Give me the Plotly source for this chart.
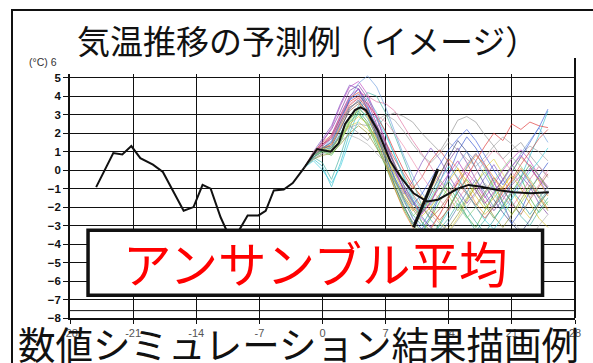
import plotly.graph_objects as go

# ---- data ----
obs_days = [-25.1, -23.2, -22.2, -21.2, -20.2, -18.8, -17.7, -15.4, -14.3, -13.3, -12.4,
            -11.3, -10.6, -10.0, -9.3, -8.3, -7.1, -6.3, -5.4, -4.3, -3.3, -2.0]
obs_temp = [-0.92, 0.92, 0.85, 1.3, 0.65, 0.3, -0.1, -2.2, -2.0, -0.8, -1.0,
            -2.55, -3.3, -3.6, -3.3, -2.45, -2.45, -2.2, -1.1, -1.05, -0.7, 0.15]

mean_days = [-2.0, -0.6, 0.9, 1.8, 2.5, 3.6, 4.2, 4.8, 6.1, 7.5, 8.7, 10.1, 11.6, 12.8,
             15.0, 16.2, 17.6, 19.4, 21.2, 23.1, 25.1]
mean_temp = [0.15, 1.14, 1.0, 1.46, 2.5, 3.25, 3.4, 3.25, 2.17, 0.5, -0.4, -1.25, -1.7, -1.6,
             -1.0, -0.8, -0.9, -1.08, -1.2, -1.25, -1.2]

member_days = [-2, -1, 0, 1, 2, 3, 4, 5, 6, 7, 8, 9, 10, 11, 12, 13, 14, 15, 16, 17, 18, 19, 20, 21, 22, 23, 24, 25]

member_01 = [0.15,0.9,1.6,2.2,3.2,4.3,4.6,3.9,2.8,1.5,0.3,-0.8,-1.6,-2.3,-1.8,-0.6,0.5,1.2,0.4,-0.5,-1.4,-2.2,-1.6,-0.8,-0.3,-0.9,-1.8,-2.4]
member_02 = [0.15,0.8,1.2,1.5,2.6,3.8,4.4,3.5,2.1,0.8,-0.5,-1.6,-2.6,-3.2,-2.5,-1.4,-0.2,1.0,1.8,1.2,0.3,-0.6,-1.8,-2.9,-2.2,-1.1,-0.3,0.4]
member_03 = [0.15,0.6,0.2,-0.9,0.4,2.0,3.2,3.9,3.1,2.0,0.8,-0.4,-1.5,-2.8,-3.6,-3.0,-2.2,-1.0,0.2,0.9,0.1,-1.0,-2.1,-1.5,-0.4,0.8,1.9,3.2]
member_04 = [0.15,0.7,1.0,0.8,1.5,2.6,3.1,2.4,1.3,0.2,-1.0,-2.1,-3.0,-3.4,-2.6,-1.7,-0.9,-1.6,-2.5,-3.1,-2.2,-1.3,-0.5,0.3,-0.4,-1.5,-2.3,-1.7]
member_05 = [0.15,0.9,1.3,1.2,1.8,2.4,2.6,2.2,1.6,0.9,0.2,-0.5,-0.9,-1.4,-2.0,-2.8,-3.3,-2.6,-1.7,-0.8,0.1,0.6,-0.2,-1.1,-2.0,-2.6,-1.9,-1.2]
member_06 = [0.15,1.0,1.5,1.9,2.9,3.9,4.2,3.3,2.0,0.6,-0.6,-1.5,-2.2,-1.8,-1.0,-0.2,0.6,0.1,-0.9,-1.8,-2.4,-1.9,-1.0,-0.1,0.7,0.2,-0.6,-1.4]
member_07 = [0.15,0.9,1.4,1.8,2.8,3.7,4.0,3.6,2.9,2.1,1.0,0.0,-0.8,-1.5,-2.2,-2.7,-2.1,-1.2,-0.4,0.5,1.3,2.0,1.6,2.5,2.2,2.6,2.4,2.3]
member_08 = [0.15,0.8,1.3,1.8,2.9,3.9,4.2,4.0,3.7,3.6,3.2,2.4,1.6,0.9,0.2,-0.6,-1.2,-0.5,0.3,0.9,0.2,-0.7,-1.4,-2.0,-1.3,-0.5,0.2,-0.3]
member_09 = [0.15,0.6,0.9,1.2,1.9,2.4,2.0,1.6,2.3,2.9,3.1,2.9,2.6,2.0,1.5,1.0,1.8,2.7,2.9,2.6,1.9,1.3,0.6,1.1,1.5,0.8,0.2,-0.4]
member_10 = [0.15,0.9,1.5,2.3,3.5,4.5,4.8,4.1,2.9,1.5,0.2,-1.1,-2.0,-2.6,-3.1,-2.4,-1.5,-0.6,-0.1,-0.7,-1.5,-0.8,0.0,0.6,1.1,0.5,-0.3,-0.9]
member_11 = [0.15,0.7,0.4,-0.5,0.8,2.3,3.5,4.2,4.0,3.1,1.9,0.6,-0.7,-1.9,-2.7,-3.2,-2.6,-1.8,-2.5,-3.3,-2.7,-1.9,-1.1,-1.7,-2.5,-3.0,-2.2,-1.5]
member_12 = [0.15,0.8,1.1,1.0,1.7,2.7,3.3,2.9,2.0,0.9,-0.1,-1.0,-1.8,-2.3,-1.6,-0.8,-1.4,-2.2,-1.5,-0.7,-0.1,-0.9,-1.7,-2.4,-1.8,-1.0,-0.4,-1.0]
member_13 = [0.15,0.7,1.2,1.6,2.7,3.9,4.7,5.1,4.5,3.4,2.1,0.8,-0.3,-1.2,-1.9,-1.3,-0.5,0.3,1.0,0.5,-0.3,-1.1,-0.6,0.2,0.9,1.6,2.3,1.5]
member_14 = [0.15,0.8,1.1,1.4,2.3,3.2,3.6,3.0,2.2,1.3,0.3,-0.6,-1.3,-2.0,-2.6,-2.1,-1.4,-0.7,-1.3,-1.9,-1.2,-0.4,-1.0,-1.8,-2.4,-1.6,-0.9,-0.2]
member_15 = [0.15,0.9,1.2,1.3,2.2,3.3,3.8,3.1,1.9,0.5,-0.8,-1.9,-2.9,-2.3,-1.3,-0.3,0.7,1.6,1.0,0.1,-0.8,-1.6,-2.3,-2.9,-3.4,-2.7,-1.8,-1.2]
member_16 = [0.15,0.6,0.8,0.9,1.4,2.0,2.4,2.0,1.2,0.3,-0.6,-1.4,-2.1,-2.8,-3.3,-3.7,-3.1,-2.4,-1.6,-0.9,-1.7,-2.5,-3.1,-2.4,-1.6,-0.8,-1.5,-2.2]
member_17 = [0.15,1.0,1.7,2.4,3.6,4.6,4.4,3.2,1.9,0.7,-0.4,-1.3,-0.6,0.4,1.2,0.6,-0.3,-1.1,-1.8,-1.2,-0.4,0.3,-0.5,-1.3,-0.7,0.1,-0.5,-1.3]
member_18 = [0.15,0.7,1.0,1.1,1.9,2.8,3.2,2.6,1.5,0.3,-0.9,-2.0,-2.8,-3.3,-3.6,-2.9,-2.0,-1.2,-0.5,-1.1,-1.9,-2.6,-2.0,-1.2,-0.4,0.3,-0.3,-1.0]
member_19 = [0.15,0.9,1.4,1.7,2.6,3.5,3.9,3.3,2.4,1.5,0.6,-0.2,-1.0,-0.4,0.5,1.1,0.4,-0.5,-1.2,-2.0,-2.6,-2.0,-1.2,-0.5,0.3,1.0,1.7,2.2]
member_20 = [0.15,0.5,0.0,-0.7,0.2,1.6,2.7,3.2,2.8,1.9,0.8,-0.3,-1.4,-2.2,-1.5,-0.6,0.2,-0.4,-1.2,-2.0,-2.7,-3.2,-2.5,-1.6,-0.8,-0.1,0.5,1.2]
member_21 = [0.15,0.7,1.0,1.3,1.8,2.3,2.5,2.4,2.7,3.0,2.7,2.1,1.4,0.8,0.4,0.9,1.5,1.1,0.6,0.2,0.7,1.3,1.8,1.4,0.9,1.3,1.0,0.5]
member_22 = [0.15,0.8,1.2,1.4,2.4,3.4,3.7,3.0,1.7,0.3,-1.0,-2.2,-3.1,-3.7,-3.2,-2.4,-1.5,-0.7,0.1,0.8,0.3,-0.4,-1.2,-0.6,0.1,-0.6,-1.4,-2.1]
member_23 = [0.15,0.8,1.3,1.7,2.8,3.8,4.1,3.4,2.3,1.2,0.0,-1.1,-1.9,-1.3,-0.5,0.3,1.1,1.7,2.2,1.6,0.8,0.0,-0.8,-0.1,0.7,1.5,2.3,3.3]
member_24 = [0.15,0.9,1.2,1.0,1.6,2.5,2.9,2.5,1.7,0.8,-0.2,-1.2,-2.0,-2.5,-2.0,-1.3,-0.6,0.1,-0.6,-1.4,-2.1,-1.5,-0.9,-0.3,-1.0,-1.8,-2.6,-3.1]
member_25 = [0.15,0.8,1.3,1.7,2.7,3.6,3.9,3.5,3.0,2.6,2.0,1.3,0.5,-0.3,-1.0,-1.6,-2.2,-1.6,-0.9,-0.2,0.5,1.1,0.6,-0.1,-0.8,-1.5,-0.8,0.0]
member_26 = [0.15,0.7,1.1,1.2,2.0,2.9,3.4,2.8,1.8,0.7,-0.4,-1.5,-2.4,-3.0,-2.2,-1.4,-0.6,-1.3,-2.1,-2.8,-3.4,-2.7,-1.9,-1.1,-1.7,-2.4,-1.7,-1.1]
member_27 = [0.15,0.6,0.9,1.0,1.6,1.9,1.7,1.4,0.9,0.4,-0.2,-0.9,-1.5,-2.0,-2.4,-2.9,-3.4,-2.7,-2.0,-1.3,-0.7,-1.3,-2.0,-2.7,-3.3,-3.8,-3.0,-2.4]
member_28 = [0.15,0.9,1.4,1.9,3.0,4.0,4.4,3.7,2.5,1.2,0.0,-1.0,-1.7,-2.4,-1.7,-0.9,-0.2,0.5,-0.3,-1.1,-1.8,-1.2,-0.5,0.2,0.8,0.2,-0.5,-1.0]
member_29 = [0.15,0.8,1.0,0.9,1.6,2.6,3.0,2.5,1.5,0.4,-0.7,-1.7,-2.5,-2.0,-1.2,-0.5,-1.1,-1.9,-2.6,-2.0,-1.3,-0.6,0.1,0.7,0.2,-0.5,-1.2,-1.9]
member_30 = [0.15,0.8,1.2,1.5,2.5,3.4,3.7,3.2,2.4,1.4,0.3,-0.8,-1.7,-2.5,-3.1,-3.5,-2.8,-2.0,-1.2,-0.5,-1.2,-2.0,-1.4,-0.7,0.0,-0.7,-1.5,-0.9]

members = [member_01, member_02, member_03, member_04, member_05, member_06, member_07, member_08,
           member_09, member_10, member_11, member_12, member_13, member_14, member_15, member_16,
           member_17, member_18, member_19, member_20, member_21, member_22, member_23, member_24,
           member_25, member_26, member_27, member_28, member_29, member_30]

member_colors = ["#7b3fa0", "#3050d0", "#30c0d0", "#40b040", "#e0d040", "#f0a030", "#e03030", "#e070a0",
                 "#909090", "#c040c0", "#40b0a0", "#a0d040", "#70a0e0", "#a06040", "#304080", "#909030",
                 "#8050c0", "#50a050", "#d04040", "#40d0e0", "#a0a0a0", "#f08030", "#4060e0", "#d8c020",
                 "#f090b0", "#30a0a0", "#b0b0b0", "#b030b0", "#80d080", "#5080b0"]

x_ticks = [-28, -21, -14, -7, 0, 7, 14, 21, 28]
x_labels = ["-28", "-21", "-14", "-7", "0", "7", "14", "21", "28"]
y_ticks = [-8, -7, -6, -5, -4, -3, -2, -1, 0, 1, 2, 3, 4, 5]
y_labels = ["<b>%s</b>" % ("−%d" % -v if v < 0 else str(v)) for v in y_ticks]

title_text = "気温推移の予測例（イメージ）"
bottom_text = "数値シミュレーション結果描画例"
box_text = "アンサンブル平均"
unit_text = "(°C) 6"

# ---- figure ----
fig = go.Figure()
for vals, col in zip(members, member_colors):
    fig.add_trace(go.Scatter(x=member_days, y=vals, mode="lines",
                             line=dict(color=col, width=1), opacity=0.65,
                             showlegend=False, hoverinfo="skip"))
fig.add_trace(go.Scatter(x=obs_days, y=obs_temp, mode="lines",
                         line=dict(color="#111111", width=2), showlegend=False))
fig.add_trace(go.Scatter(x=mean_days, y=mean_temp, mode="lines",
                         line=dict(color="#111111", width=2), showlegend=False))

W, H = 593, 363
L, R, T, B = 70, 18, 74, 45

def px(xp):
    return (xp - L) / (W - L - R)

def py(yp):
    return (H - B - yp) / (H - T - B)

fig.update_layout(
    width=W, height=H,
    margin=dict(l=L, r=R, t=T, b=B),
    paper_bgcolor="white", plot_bgcolor="white",
    xaxis=dict(range=[-28, 28], tickvals=x_ticks, ticktext=x_labels,
               showgrid=True, gridcolor="#111111", gridwidth=1, zeroline=False,
               showline=True, linecolor="#111111", linewidth=1.5,
               ticks="outside", ticklen=4, tickcolor="#111111",
               tickfont=dict(family="Liberation Sans", size=11, color="#555555")),
    yaxis=dict(range=[-8, 5.2], tickvals=y_ticks, ticktext=y_labels,
               showgrid=True, gridcolor="#111111", gridwidth=1, zeroline=False,
               showline=True, linecolor="#111111", linewidth=1.5,
               ticks="outside", ticklen=5, tickcolor="#111111",
               tickfont=dict(family="Liberation Sans", size=11.5, color="#111111")),
    font=dict(family="Noto Sans CJK JP"),
)

shapes = [
    dict(type="line", xref="x", yref="y", x0=-28, x1=28, y0=-7.6, y1=-7.6,
         line=dict(color="#111111", width=1)),
    dict(type="line", xref="paper", yref="paper", x0=1, x1=1, y0=0, y1=py(58),
         line=dict(color="#111111", width=2)),
    dict(type="rect", xref="paper", yref="paper", x0=px(12), x1=px(605), y0=py(375), y1=py(10),
         line=dict(color="#111111", width=2), fillcolor="rgba(0,0,0,0)"),
    dict(type="rect", xref="x", yref="y", x0=-26.0, x1=24.4, y0=-6.77, y1=-3.25,
         line=dict(color="#111111", width=3.5), fillcolor="white", layer="above"),
    dict(type="line", xref="x", yref="y", x0=10.1, y0=-3.1, x1=12.8, y1=0.05,
         line=dict(color="#111111", width=3), layer="above"),
]
fig.update_layout(shapes=shapes)

fig.add_annotation(text=title_text, xref="paper", yref="paper", x=px(307), y=py(40),
                   showarrow=False, xanchor="center", yanchor="middle",
                   font=dict(family="Noto Sans CJK JP", size=33, color="#111111"))
fig.add_annotation(text=bottom_text, xref="paper", yref="paper", x=px(298), y=py(342),
                   showarrow=False, xanchor="center", yanchor="middle",
                   font=dict(family="Noto Sans CJK JP", size=37.5, color="#111111"))
fig.add_annotation(text=box_text, xref="x", yref="y", x=-0.8, y=-4.98,
                   showarrow=False, xanchor="center", yanchor="middle",
                   font=dict(family="Noto Sans CJK JP", size=48.5, color="#ff0000"))
fig.add_annotation(text=unit_text, xref="paper", yref="paper", x=px(43), y=py(62),
                   showarrow=False, xanchor="center", yanchor="middle",
                   font=dict(family="Liberation Sans", size=10.5, color="#333333"))

fig.write_html("out.html")
